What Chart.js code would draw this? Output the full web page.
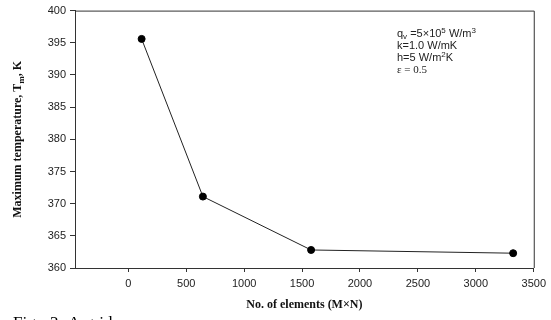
<!DOCTYPE html>
<html>
<head>
<meta charset="utf-8">
<script src="https://cdn.jsdelivr.net/npm/chart.js@4/dist/chart.umd.min.js"></script>
<style>
html,body{margin:0;padding:0;background:#fff;}
#wrap{position:relative;width:551px;height:320px;overflow:hidden;}
canvas{display:block;}
</style>
</head>
<body>
<div id="wrap"><canvas id="c" width="551" height="320"></canvas></div>
<script>
// Data
const elements = [115, 644, 1578, 3322];
const maxTemp = [395.6, 371.1, 362.8, 362.3];
const xTickValues = [0, 500, 1000, 1500, 2000, 2500, 3000, 3500];
const yTickValues = [360, 365, 370, 375, 380, 385, 390, 395, 400];
const xTitle = 'No. of elements (M\u00D7N)';
const yTitleParts = ['Maximum temperature, T', 'm', ', K'];
const captionWords = ['Fig.', '3', 'A', 'grid'];

const tickFont = {family: 'Liberation Sans, Arial, sans-serif', size: 11};

const boxPlugin = {
  id: 'box',
  afterDraw(chart) {
    const ctx = chart.ctx, a = chart.chartArea;
    ctx.save();
    ctx.strokeStyle = '#333';
    ctx.lineWidth = 1;
    ctx.beginPath();
    ctx.moveTo(a.left, a.top + 0.5);
    ctx.lineTo(a.right + 0.5, a.top + 0.5);
    ctx.lineTo(a.right + 0.5, a.bottom);
    ctx.stroke();

    // x title
    ctx.fillStyle = '#111';
    ctx.font = 'bold 12px "Liberation Serif", "Times New Roman", serif';
    ctx.textAlign = 'center';
    ctx.textBaseline = 'middle';
    ctx.fillText(xTitle, (a.left + a.right) / 2, 305);

    // y title with subscript
    ctx.save();
    ctx.translate(17, (a.top + a.bottom) / 2);
    ctx.rotate(-Math.PI / 2);
    const f1 = 'bold 12px "Liberation Serif", "Times New Roman", serif';
    const f2 = 'bold 9px "Liberation Serif", "Times New Roman", serif';
    ctx.font = f1; const w1 = ctx.measureText(yTitleParts[0]).width;
    const w3 = ctx.measureText(yTitleParts[2]).width;
    ctx.font = f2; const w2 = ctx.measureText(yTitleParts[1]).width;
    let x = -(w1 + w2 + w3) / 2;
    ctx.textAlign = 'left';
    ctx.textBaseline = 'alphabetic';
    ctx.font = f1; ctx.fillText(yTitleParts[0], x, 4); x += w1;
    ctx.font = f2; ctx.fillText(yTitleParts[1], x, 7); x += w2;
    ctx.font = f1; ctx.fillText(yTitleParts[2], x, 4);
    ctx.restore();

    // annotation block
    const lx = 397;
    const sans = 'Liberation Sans, Arial, sans-serif';
    const base = '11px ' + sans, small = '8px ' + sans;
    function runs(parts, y) {
      let cx = lx;
      for (const p of parts) {
        ctx.font = p.s ? small : base;
        const dy = p.s === 'sup' ? -4 : (p.s === 'sub' ? 2 : 0);
        ctx.fillText(p.t, cx, y + dy);
        cx += ctx.measureText(p.t).width;
      }
    }
    ctx.fillStyle = '#222';
    ctx.textAlign = 'left';
    ctx.textBaseline = 'alphabetic';
    runs([{t:'q'},{t:'v',s:'sub'},{t:' =5\u00D710'},{t:'5',s:'sup'},{t:' W/m'},{t:'3',s:'sup'}], 37);
    runs([{t:'k=1.0 W/mK'}], 49);
    runs([{t:'h=5 W/m'},{t:'2',s:'sup'},{t:'K'}], 61);
    ctx.font = '11px "Liberation Serif", "Times New Roman", serif';
    ctx.fillText('\u03B5 = 0.5', lx, 73);

    // caption (cut off at bottom in reference), justified word spacing
    ctx.font = '17px "Liberation Serif", "Times New Roman", serif';
    ctx.fillStyle = '#000';
    ctx.textBaseline = 'alphabetic';
    const capX = [13, 50, 68, 85];
    captionWords.forEach((w, i) => ctx.fillText(w, capX[i], 328));
    ctx.restore();
  }
};

new Chart(document.getElementById('c'), {
  type: 'scatter',
  data: {
    datasets: [{
      data: elements.map((v, i) => ({x: v, y: maxTemp[i]})),
      showLine: true,
      borderColor: '#222',
      borderWidth: 1,
      backgroundColor: '#000',
      pointBackgroundColor: '#000',
      pointBorderColor: '#000',
      pointRadius: 3.5,
      tension: 0
    }]
  },
  options: {
    responsive: false,
    animation: false,
    devicePixelRatio: 1,
    layout: {padding: {top: 9, right: 17, left: 0, bottom: 0}},
    plugins: {legend: {display: false}, tooltip: {enabled: false}},
    scales: {
      x: {
        type: 'linear',
        min: -460,
        max: 3500,
        afterBuildTicks(s) { s.ticks = xTickValues.map(v => ({value: v})); },
        afterFit(s) { s.height = 52; },
        grid: {display: true, drawOnChartArea: false, drawTicks: true, tickLength: 4, color: '#333', lineWidth: 1},
        border: {display: true, color: '#333', width: 1},
        ticks: {font: tickFont, color: '#222', padding: 5, maxRotation: 0, autoSkip: false, callback: v => String(v)}
      },
      y: {
        type: 'linear',
        min: 360,
        max: 400,
        afterBuildTicks(s) { s.ticks = yTickValues.map(v => ({value: v})); },
        afterFit(s) { s.width = 75; },
        grid: {display: true, drawOnChartArea: false, drawTicks: true, tickLength: 5, color: '#333', lineWidth: 1},
        border: {display: true, color: '#333', width: 1},
        ticks: {font: tickFont, color: '#222', padding: 4, autoSkip: false, callback: v => String(v)}
      }
    }
  },
  plugins: [boxPlugin]
});
</script>
</body>
</html>
